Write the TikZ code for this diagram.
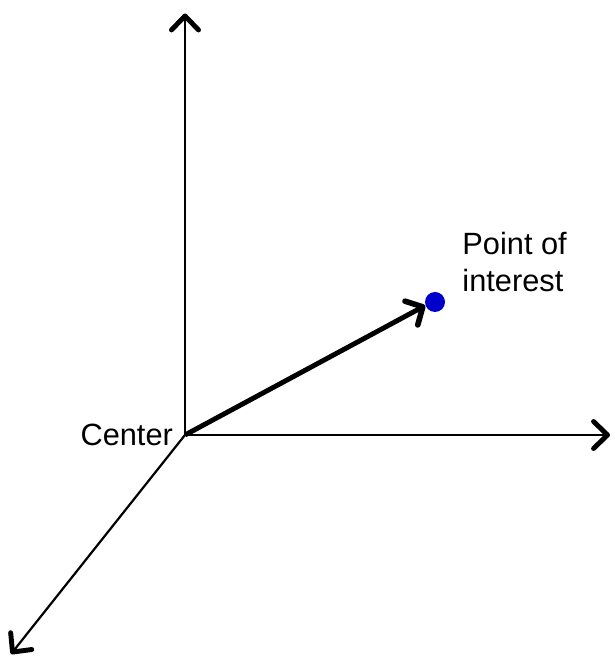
\documentclass[tikz,border=0pt]{standalone}
\usepackage{fontspec}
\setmainfont{Liberation Sans}
\usetikzlibrary{positioning, arrows.meta}

\begin{document}
\begin{tikzpicture}[
    axis/.style={-{Straight Barb[length=2.8mm, width=5.4mm, line width=2.8pt, line cap=round, line join=round]}, line width=1.25pt},
    vec/.style={-{Straight Barb[length=2.6mm, width=5.4mm, line width=3.2pt, line cap=round, line join=round]}, line width=2.8pt},
    dot/.style={circle, fill=blue!80!black, inner sep=0pt, minimum size=0.4cm},
    lbl/.style={font=\fontsize{17.5}{21}\selectfont, inner sep=1pt}
]
    \useasboundingbox (0,0) rectangle (12.3,13.22);

    % origin and axis ends
    \coordinate (ctr) at (3.70, 4.52);
    \coordinate (ztip) at (3.70, 12.95);
    \coordinate (xtip) at (12.20, 4.52);
    \coordinate (ytip) at (0.22, 0.14);

    \draw[axis] (ctr) -- (ztip);
    \draw[axis] (ctr) -- (xtip);
    \draw[axis] (ctr) -- (ytip);

    % point of interest
    \node[dot] (poi) at (8.70, 7.18) {};
    \draw[vec] (ctr) -- (poi.200);

    \node[lbl, left=0.2cm of ctr] (ctrlbl) {Center};
    \node[lbl, align=left, anchor=west, right=0.3cm of poi, yshift=0.8cm] (poilbl) {Point of\\interest};
\end{tikzpicture}
\end{document}
